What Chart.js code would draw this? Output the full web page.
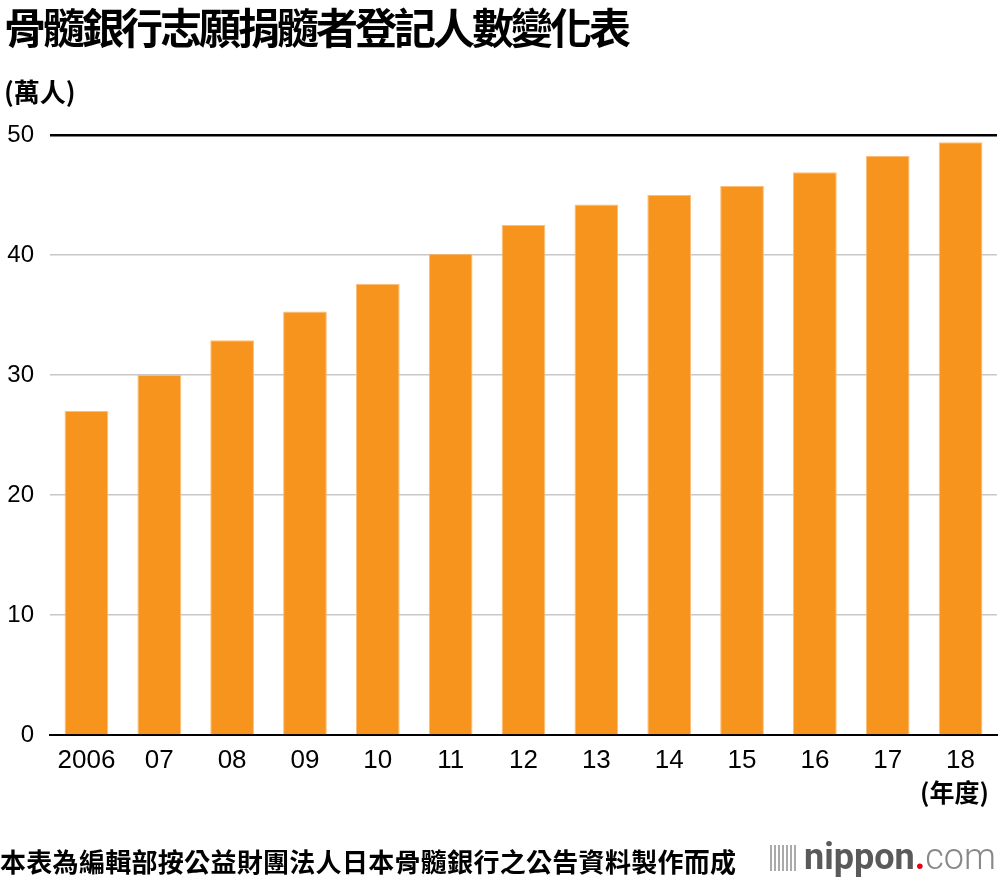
<!DOCTYPE html>
<html>
<head>
<meta charset="utf-8">
<script src="https://cdn.jsdelivr.net/npm/chart.js@4.4.0/dist/chart.umd.min.js"></script>
<style>
  html, body { margin: 0; padding: 0; background: #fff; }
  #wrap { position: relative; width: 1000px; height: 880px; overflow: hidden; }
  #wrap canvas { position: absolute; left: 0; top: 0; }
  .txt { position: absolute; font-family: "Noto Sans CJK TC", "Noto Sans CJK JP", sans-serif; color: #000; white-space: nowrap; }
  #title { left: 4px; top: -5px; font-size: 42px; font-weight: 700; letter-spacing: -3px; }
  #unit { left: 4px; top: 72px; font-size: 26px; font-weight: 700; }
  #unitX { left: 920px; top: 773px; font-size: 25px; font-weight: 700; }
  #source { left: 0px; top: 842px; font-size: 26px; font-weight: 700; letter-spacing: 0.3px; }
  #logo { position: absolute; left: 770px; top: 836px; font-family: "Roboto", "Liberation Sans", sans-serif; font-size: 36px; color: #666; white-space: nowrap; }
  #logo b { font-weight: 700; color: #5a5a5a; }
  #logo .dot { color: #e60012; font-weight: 700; }
  #logo .com { font-weight: 300; color: #888; }
  #logo .bars { display: inline-block; width: 26px; height: 26px; margin-right: 8px; vertical-align: -2px;
    background: repeating-linear-gradient(90deg, #aaa 0 2px, transparent 2px 4px); }
</style>
</head>
<body>
<div id="wrap">
  <canvas id="dataChart" width="1000" height="880"></canvas>
  <div class="txt" id="title">骨髓銀行志願捐髓者登記人數變化表</div>
  <div class="txt" id="unit">(萬人)</div>
  <div class="txt" id="unitX">(年度)</div>
  <div class="txt" id="source">本表為編輯部按公益財團法人日本骨髓銀行之公告資料製作而成</div>
  <div id="logo"><span class="bars"></span><b>nippon</b><span class="dot">.</span><span class="com">com</span></div>
</div>
<script>
const years = ["2006", "07", "08", "09", "10", "11", "12", "13", "14", "15", "16", "17", "18"];
const donors = [27.0, 30.0, 32.9, 35.3, 37.6, 40.1, 42.5, 44.2, 45.0, 45.75, 46.9, 48.25, 49.4];
const yTicks = [0, 10, 20, 30, 40, 50];

const ctx = document.getElementById("dataChart").getContext("2d");

const barChart = new Chart(ctx, {
  type: "bar",
  data: {
    labels: years,
    datasets: [
      {
        data: donors,
        backgroundColor: "#f7941e",
        borderColor: "#fbbd78",
        borderWidth: 1,
      },
    ],
  },
  options: {
    responsive: false,
    animation: false,
    layout: {
      padding: { left: 0, right: 3, top: 135, bottom: 105 },
    },
    plugins: {
      legend: { display: false },
      tooltip: { enabled: false },
    },
    datasets: {
      bar: { barPercentage: 0.6, categoryPercentage: 1 },
    },
    scales: {
      x: {
        grid: { display: false },
        border: { display: true, color: "#000", width: 2 },
        ticks: {
          color: "#000",
          padding: 2,
          font: { family: "'Liberation Sans', Arial, sans-serif", size: 26 },
          maxRotation: 0,
          autoSkip: false,
        },
        afterFit: (axis) => {
          axis.height = 40;
        },
      },
      y: {
        min: 0,
        max: 50,
        afterBuildTicks: (axis) => {
          axis.ticks = yTicks.map((v) => ({ value: v }));
        },
        grid: {
          drawTicks: false,
          color: (c) => (c.tick && (c.tick.value === 50 || c.tick.value === 0) ? "#000" : "#c8c8c8"),
          lineWidth: (c) => (c.tick && c.tick.value === 50 ? 2.5 : 1.5),
        },
        border: { display: false },
        ticks: {
          color: "#000",
          padding: 16,
          font: { family: "'Liberation Sans', Arial, sans-serif", size: 24 },
        },
        afterFit: (axis) => {
          axis.width = 50;
        },
      },
    },
  },
});
</script>
</body>
</html>
